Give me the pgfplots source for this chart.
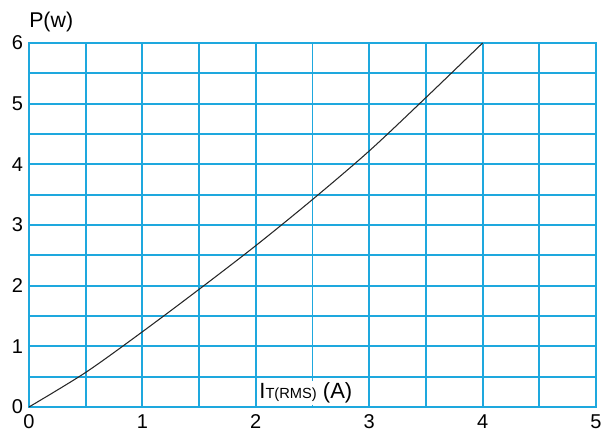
\documentclass[border=0pt]{standalone}
\usepackage{pgfplots}
\pgfplotsset{compat=1.18}
\usepackage{fontspec}
\setmainfont{Liberation Sans}
\definecolor{gridcyan}{RGB}{30,168,222}
\definecolor{curve}{RGB}{40,40,40}
\begin{document}
\begin{tikzpicture}
  \begin{axis}[
    scale only axis,
    width=425.25pt, height=273pt,
    xmin=0, xmax=5, ymin=0, ymax=6,
    xtick={0,0.5,...,5},
    xticklabels={0,,1,,2,,3,,4,,5},
    ytick={0,0.5,...,6},
    yticklabels={0,,1,,2,,3,,4,,5,,6},
    grid=major,
    grid style={draw=gridcyan, line width=1.4pt},
    axis line style={draw=gridcyan, line width=1.4pt},
    major tick length=0pt,
    tick label style={font=\fontsize{15}{18}\selectfont, black},
    /pgf/number format/assume math mode=true,
    xticklabel style={yshift=-2pt},
    yticklabel style={xshift=-1pt},
    clip=false,
  ]
    \addplot[curve, line width=0.8pt, smooth] coordinates {
      (0,0) (0.5,0.57) (1,1.24) (1.5,1.94) (2,2.66) (2.5,3.42)
      (3,4.22) (3.5,5.10) (4,6.0)
    };
    \node[anchor=south west, inner sep=0pt, font=\fontsize{16}{19}\selectfont]
      at ([yshift=8pt]rel axis cs:0,1) {P(w)};
    \node[anchor=south west, fill=white, inner sep=1.5pt, font=\fontsize{16.5}{19}\selectfont]
      at ([xshift=1pt,yshift=1pt]axis cs:2,0) {I{\fontsize{11}{13}\selectfont T(RMS)} (A)};
    \coordinate (bl) at (rel axis cs:0,0);
    \coordinate (tr) at (rel axis cs:1,1);
  \end{axis}
  \pgfresetboundingbox
  \path ([shift={(-21.75pt,-18.75pt)}]bl) rectangle ([shift={(5.25pt,32.25pt)}]tr);
\end{tikzpicture}
\end{document}
